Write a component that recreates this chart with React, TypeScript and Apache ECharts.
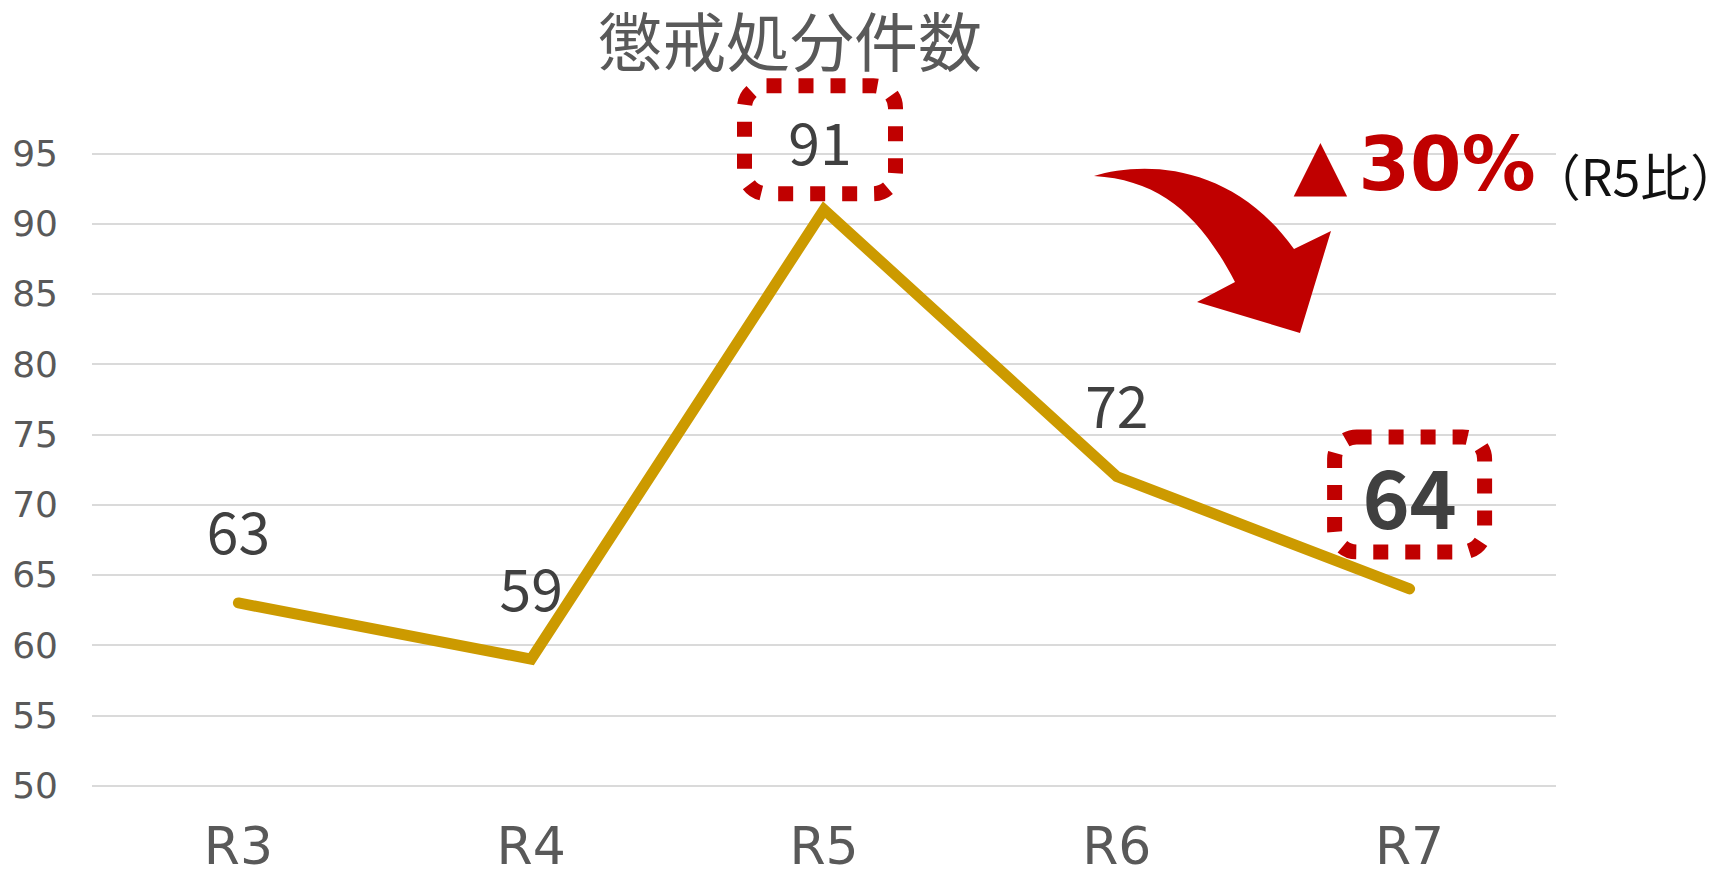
import React, { useEffect, useRef } from "react";
import * as echarts from "echarts";

const categories = ["R3", "R4", "R5", "R6", "R7"];
const values = [63, 59, 91, 72, 64];
const yMin = 50;
const yMax = 95;
const yStep = 5;
const boxedIndex = 2; // R5
const boldIndex = 4; // R7
const titleText = "懲戒処分件数";
const changeMark = "▲";
const changeText = "30%";
const changeNote = "（R5比）";

const ARROW_D =
  "M1094,176 C1140,162 1230,160 1294,249 L1331,231 L1300,333 L1197,302 L1235,282 C1200,215 1160,180 1094,176 Z";

let registered = false;
function ensureShapes() {
  if (registered) return;
  echarts.graphic.registerShape("curveArrow", echarts.graphic.extendPath(ARROW_D, {}));
  registered = true;
}

const RED = "#C00000";
const GOLD = "#CC9A00";
const CJK = "'Noto Sans CJK JP', 'Noto Sans', sans-serif";
const DEJAVU = "'DejaVu Sans', sans-serif";

export default function App() {
  const ref = useRef<HTMLDivElement>(null);

  useEffect(() => {
    document.body.style.margin = "0";
    document.body.style.overflow = "hidden";
    ensureShapes();
    const chart = echarts.init(ref.current!, null, { renderer: "svg" });

    const baseLabel = {
      show: true,
      position: "top",
      distance: 44,
      fontSize: 57,
      fontFamily: CJK,
      color: "#404040",
    };
    const boxStyle = {
      borderColor: RED,
      borderWidth: 15,
      borderType: [15, 17],
      borderRadius: 22,
      align: "center",
    };

    const data = values.map((v, i) => {
      if (i === boxedIndex) {
        return {
          value: v,
          label: {
            ...baseLabel,
            ...boxStyle,
            distance: 15,
            width: 151,
            lineHeight: 108,
            padding: 0,
            offset: [-4, 0],
          },
        };
      }
      if (i === boldIndex) {
        return {
          value: v,
          label: {
            ...baseLabel,
            ...boxStyle,
            fontSize: 80,
            fontWeight: "bold",
            distance: 36,
            width: 150,
            lineHeight: 115,
            padding: 0,
          },
        };
      }
      return { value: v };
    });

    chart.setOption({
      animation: false,
      title: {
        text: titleText,
        left: 598,
        top: 6,
        padding: 0,
        textStyle: {
          fontSize: 64,
          fontWeight: "normal",
          fontFamily: CJK,
          color: "#595959",
        },
      },
      grid: { left: 92, right: 157, top: 153.5, bottom: 91.5, containLabel: false },
      xAxis: {
        type: "category",
        data: categories,
        axisLine: { show: false },
        axisTick: { show: false },
        axisLabel: {
          margin: 34,
          fontSize: 52,
          fontFamily: DEJAVU,
          color: "#595959",
        },
      },
      yAxis: {
        type: "value",
        min: yMin,
        max: yMax,
        interval: yStep,
        axisLine: { show: false },
        axisTick: { show: false },
        axisLabel: {
          margin: 34,
          fontSize: 36,
          fontFamily: DEJAVU,
          color: "#595959",
        },
        splitLine: { lineStyle: { color: "#DADADA", width: 2 } },
      },
      series: [
        {
          type: "line",
          data,
          symbol: "circle",
          symbolSize: 2,
          showSymbol: true,
          itemStyle: { color: GOLD },
          lineStyle: { color: GOLD, width: 11, cap: "round", join: "miter" },
          label: baseLabel,
          z: 3,
        },
      ],
      graphic: [
        {
          type: "curveArrow",
          x: 0,
          y: 0,
          style: { fill: RED },
          z: 10,
        },
        {
          type: "text",
          x: 1320.5,
          y: 163.5,
          z: 10,
          style: {
            text: changeMark,
            fontSize: 70,
            fontFamily: DEJAVU,
            fill: RED,
            textAlign: "center",
            textVerticalAlign: "middle",
          },
        },
        {
          type: "text",
          x: 1447,
          y: 164,
          z: 10,
          style: {
            text: changeText,
            fontSize: 74,
            fontWeight: "bold",
            fontFamily: DEJAVU,
            fill: RED,
            textAlign: "center",
            textVerticalAlign: "middle",
          },
        },
        {
          type: "text",
          x: 1635.5,
          y: 173.5,
          z: 10,
          style: {
            text: changeNote,
            fontSize: 50,
            fontFamily: CJK,
            fill: "#111111",
            textAlign: "center",
            textVerticalAlign: "middle",
          },
        },
      ],
    });

    return () => chart.dispose();
  }, []);

  return <div ref={ref} style={{ width: 1713, height: 877 }} />;
}
